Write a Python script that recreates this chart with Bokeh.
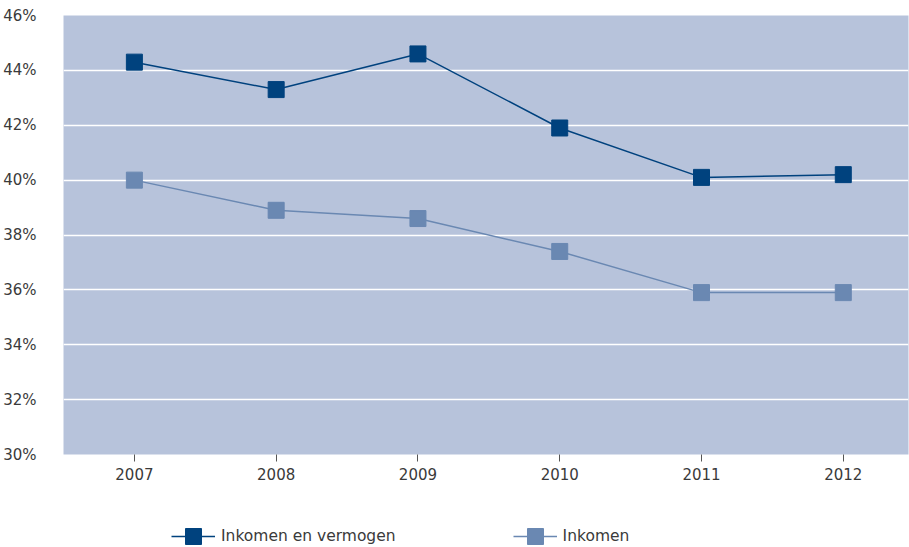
from bokeh.plotting import figure
from bokeh.layouts import column
from bokeh.models import Legend, LegendItem, FixedTicker, Range1d
from bokeh.embed import file_html
from bokeh.resources import INLINE

# Share of households (percent) per year
years = [2007, 2008, 2009, 2010, 2011, 2012]
inkomen_en_vermogen = [44.3, 43.3, 44.6, 41.9, 40.1, 40.2]
inkomen = [40.0, 38.9, 38.6, 37.4, 35.9, 35.9]
y_ticks = [30, 32, 34, 36, 38, 40, 42, 44, 46]
series_names = ["Inkomen en vermogen", "Inkomen"]

dark = "#00427e"
light = "#6a88b2"
band = "#b7c3db"
text_color = "#3a3a3a"
font = "DejaVu Sans"

p = figure(width=909, height=495, output_backend="svg", toolbar_location=None,
           x_range=Range1d(2006.5, 2012.46), y_range=Range1d(30, 46),
           min_border_left=63, min_border_right=1, min_border_top=15,
           min_border_bottom=41)
p.background_fill_color = band
p.border_fill_color = "white"
p.outline_line_color = None

series = [inkomen_en_vermogen, inkomen]
colors = [dark, light]
for vals, color in zip(series, colors):
    p.line(years, vals, line_color=color, line_width=1.5)
    p.scatter(years, vals, marker="square", size=16,
              fill_color=color, line_color=color)

# axes
p.xgrid.grid_line_color = None
p.ygrid.grid_line_color = "white"
p.ygrid.grid_line_width = 1.5

p.xaxis.ticker = FixedTicker(ticks=years)
p.xaxis.axis_line_color = None
p.xaxis.major_tick_line_color = "#555555"
p.xaxis.major_tick_in = 0
p.xaxis.major_tick_out = 7
p.xaxis.minor_tick_line_color = None
p.xaxis.major_label_standoff = 6

p.yaxis.ticker = FixedTicker(ticks=y_ticks)
p.yaxis.major_label_overrides = {t: f"{t}%" for t in y_ticks}
p.yaxis.axis_line_color = None
p.yaxis.major_tick_line_color = None
p.yaxis.minor_tick_line_color = None
p.yaxis.major_label_standoff = 21

for ax in (p.xaxis, p.yaxis):
    ax.major_label_text_font = font
    ax.major_label_text_font_size = "15px"
    ax.major_label_text_color = text_color

# legend strip underneath the chart; its renderers are hidden, only the
# legend swatches are shown
lg = figure(width=909, height=52, output_backend="svg", toolbar_location=None,
            x_axis_location=None, y_axis_location=None,
            x_range=Range1d(0, 1), y_range=Range1d(0, 1),
            min_border_left=0, min_border_right=0, min_border_top=0,
            min_border_bottom=0)
lg.outline_line_color = None
lg.xgrid.grid_line_color = None
lg.ygrid.grid_line_color = None
items = []
for name, vals, color in zip(series_names, series, colors):
    rl = lg.line(years, vals, line_color=color, line_width=1.5, visible=False)
    rs = lg.scatter(years, vals, marker="square", size=16,
                    fill_color=color, line_color=color, visible=False)
    items.append(LegendItem(label=name, renderers=[rl, rs]))

legend = Legend(items=items, orientation="horizontal", location=(108, -9),
                glyph_width=44, glyph_height=40, label_standoff=6, spacing=117,
                padding=0, margin=0, border_line_color=None,
                background_fill_alpha=0, label_text_font=font,
                label_text_font_size="15.5px", label_text_color=text_color)
lg.add_layout(legend, "center")

layout = column(p, lg, spacing=0)
open("out.html", "w").write(file_html(layout, INLINE))
